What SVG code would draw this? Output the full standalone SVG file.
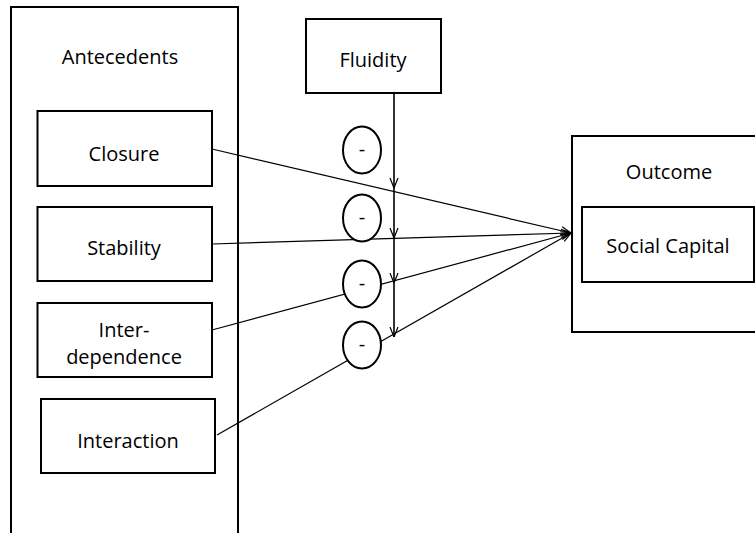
<svg xmlns="http://www.w3.org/2000/svg" width="755" height="533" viewBox="0 0 755 533">
<defs>
<style>
.box{fill:#fff;stroke:#000;stroke-width:2}
.t{font-family:"Open Sans","Noto Sans","Liberation Sans",sans-serif;font-size:20px;fill:#000;text-anchor:middle}
.c{fill:none;stroke:#000;stroke-width:1.2}
.v{fill:none;stroke:#000;stroke-width:1.6}
.e{fill:#fff;stroke:#000;stroke-width:2}
</style>
<marker id="ah" viewBox="0 0 10 10" refX="10" refY="5" markerWidth="10" markerHeight="10" markerUnits="userSpaceOnUse" orient="auto">
<path d="M0,1 L10,5 L0,9" fill="none" stroke="#000" stroke-width="1.2"/>
</marker>
</defs>
<rect width="755" height="533" fill="#fff"/>
<g id="antecedents">
<rect class="box" x="11" y="7" width="227" height="540"/>
<text class="t" x="120" y="64">Antecedents</text>
</g>
<g id="closure">
<rect class="box" x="37.5" y="111" width="174.5" height="75"/>
<text class="t" x="124" y="161">Closure</text>
</g>
<g id="stability">
<rect class="box" x="37.5" y="207" width="174.5" height="74"/>
<text class="t" x="124" y="255">Stability</text>
</g>
<g id="interdependence">
<rect class="box" x="37.5" y="303" width="174.5" height="74"/>
<text class="t" x="124" y="337">Inter-</text>
<text class="t" x="124" y="364">dependence</text>
</g>
<g id="interaction">
<rect class="box" x="41" y="399" width="174" height="74"/>
<text class="t" x="128" y="448">Interaction</text>
</g>
<g id="fluidity">
<rect class="box" x="306" y="19" width="135" height="74"/>
<text class="t" x="373" y="67">Fluidity</text>
</g>
<g id="outcome">
<rect class="box" x="572" y="136" width="200" height="196"/>
<text class="t" x="669" y="179">Outcome</text>
</g>
<g id="socialcapital">
<rect x="582" y="207" width="172" height="75" fill="#fff" stroke="#000" stroke-width="2"/>
<text class="t" x="668" y="253">Social Capital</text>
</g>
<g id="connectors">
<line class="c" x1="212" y1="149" x2="571" y2="233" marker-end="url(#ah)"/>
<line class="c" x1="212" y1="244" x2="571" y2="233" marker-end="url(#ah)"/>
<line class="c" x1="212" y1="330" x2="571" y2="233" marker-end="url(#ah)"/>
<line class="c" x1="217" y1="435" x2="571" y2="233" marker-end="url(#ah)"/>
<line class="v" x1="394" y1="93" x2="394" y2="188" marker-end="url(#ah)"/>
<line class="v" x1="394" y1="188" x2="394" y2="238" marker-end="url(#ah)"/>
<line class="v" x1="394" y1="238" x2="394" y2="283" marker-end="url(#ah)"/>
<line class="v" x1="394" y1="283" x2="394" y2="337" marker-end="url(#ah)"/>
</g>
<g id="moderators">
<g id="m1"><ellipse class="e" cx="362" cy="150" rx="19" ry="23.5"/><text class="t" x="362" y="156">-</text></g>
<g id="m2"><ellipse class="e" cx="362" cy="218" rx="19" ry="23.5"/><text class="t" x="362" y="224">-</text></g>
<g id="m3"><ellipse class="e" cx="362" cy="284" rx="19" ry="23.5"/><text class="t" x="362" y="290">-</text></g>
<g id="m4"><ellipse class="e" cx="362" cy="345" rx="19" ry="23.5"/><text class="t" x="362" y="351">-</text></g>
</g>
</svg>
